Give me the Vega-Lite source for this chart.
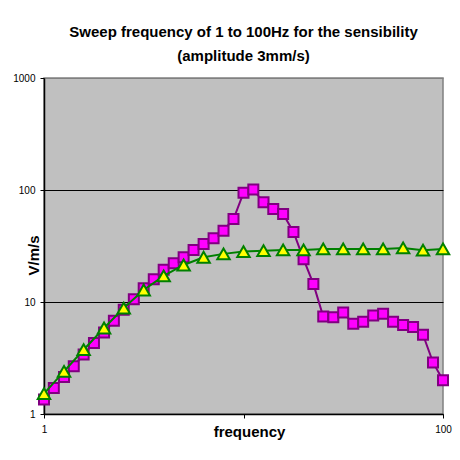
{
  "$schema": "https://vega.github.io/schema/vega-lite/v6.json",
  "width": 399,
  "height": 336,
  "autosize": {"type": "none"},
  "padding": {"left": 44, "top": 78, "right": 17, "bottom": 46},
  "background": "white",
  "config": {
    "font": "Liberation Sans",
    "view": {"fill": "#C0C0C0", "stroke": "#808080", "strokeWidth": 1.5}
  },
  "title": {
    "text": ["Sweep frequency of 1 to 100Hz for the sensibility", "(amplitude 3mm/s)"],
    "fontSize": 15,
    "fontWeight": "bold",
    "font": "Liberation Sans",
    "color": "black",
    "anchor": "middle",
    "frame": "group",
    "lineHeight": 24,
    "baseline": "alphabetic",
    "offset": 16,
    "dy": 19
  },
  "datasets": {
    "magenta": [
      {"freq": 1, "v": 1.35}, {"freq": 1.12, "v": 1.71}, {"freq": 1.26, "v": 2.14},
      {"freq": 1.41, "v": 2.67}, {"freq": 1.58, "v": 3.39}, {"freq": 1.78, "v": 4.31},
      {"freq": 2, "v": 5.35}, {"freq": 2.24, "v": 6.8}, {"freq": 2.51, "v": 8.53},
      {"freq": 2.82, "v": 10.6}, {"freq": 3.16, "v": 13.3}, {"freq": 3.55, "v": 16.0},
      {"freq": 3.98, "v": 19.4}, {"freq": 4.47, "v": 22.2}, {"freq": 5.01, "v": 25.1},
      {"freq": 5.62, "v": 29.2}, {"freq": 6.31, "v": 33.0}, {"freq": 7.08, "v": 37.1},
      {"freq": 7.94, "v": 43.3}, {"freq": 8.91, "v": 55.1}, {"freq": 10, "v": 94.4},
      {"freq": 11.2, "v": 101}, {"freq": 12.6, "v": 77.6}, {"freq": 14.1, "v": 67.6},
      {"freq": 15.8, "v": 61.1}, {"freq": 17.8, "v": 42.2}, {"freq": 20, "v": 24.1},
      {"freq": 22.4, "v": 14.5}, {"freq": 25.1, "v": 7.43}, {"freq": 28.2, "v": 7.3},
      {"freq": 31.6, "v": 8.06}, {"freq": 35.5, "v": 6.4}, {"freq": 39.8, "v": 6.66},
      {"freq": 44.7, "v": 7.58}, {"freq": 50.1, "v": 7.85}, {"freq": 56.2, "v": 6.66},
      {"freq": 63.1, "v": 6.23}, {"freq": 70.8, "v": 5.98}, {"freq": 79.4, "v": 5.1},
      {"freq": 89.1, "v": 2.89}, {"freq": 100, "v": 2.0}
    ],
    "green": [
      {"freq": 1, "v": 1.52}, {"freq": 1.26, "v": 2.4}, {"freq": 1.58, "v": 3.75},
      {"freq": 2, "v": 5.86}, {"freq": 2.51, "v": 8.83}, {"freq": 3.16, "v": 12.8},
      {"freq": 3.98, "v": 17.1}, {"freq": 5.01, "v": 21.4}, {"freq": 6.31, "v": 25.1},
      {"freq": 7.94, "v": 26.9}, {"freq": 10, "v": 28.2}, {"freq": 12.6, "v": 28.7},
      {"freq": 15.8, "v": 29.2}, {"freq": 20, "v": 29.2}, {"freq": 25.1, "v": 29.8},
      {"freq": 31.6, "v": 29.8}, {"freq": 39.8, "v": 29.8}, {"freq": 50.1, "v": 29.8},
      {"freq": 63.1, "v": 30.4}, {"freq": 79.4, "v": 29.0}, {"freq": 100, "v": 29.8}
    ]
  },
  "encoding": {
    "x": {
      "field": "freq", "type": "quantitative",
      "scale": {"type": "log", "domain": [1, 100], "nice": false},
      "axis": {
        "title": "frequency",
        "titleFontSize": 15, "titleFontWeight": "bold", "titleColor": "black",
        "titleX": 205, "titleY": 22, "titleBaseline": "alphabetic", "titleAlign": "center",
        "values": [1, 10, 100],
        "format": "d",
        "labelExpr": "datum.value == 10 ? '' : datum.label",
        "grid": false,
        "domainColor": "black", "domainWidth": 1.5,
        "tickColor": "black", "tickSize": 4,
        "labelFontSize": 10, "labelColor": "black", "labelPadding": 6,
        "labelFlush": false, "labelOverlap": false
      }
    },
    "y": {
      "field": "v", "type": "quantitative",
      "scale": {"type": "log", "domain": [1, 1000], "nice": false},
      "axis": {
        "title": "V/m/s",
        "titleFontSize": 15, "titleFontWeight": "bold", "titleColor": "black",
        "titleX": -11, "titleY": 177, "titleBaseline": "middle", "titleAlign": "center", "titleAngle": -90,
        "values": [1, 10, 100, 1000],
        "format": "d",
        "grid": true,
        "gridColor": {"condition": {"test": "datum.value == 1000", "value": "#808080"}, "value": "black"},
        "gridWidth": 1,
        "domainColor": "black", "domainWidth": 1.5,
        "tickColor": "black", "tickSize": 4,
        "labelFontSize": 10, "labelColor": "black", "labelPadding": 5,
        "labelFlush": false, "labelOverlap": false
      }
    }
  },
  "layer": [
    {
      "data": {"name": "magenta"},
      "mark": {"type": "line", "color": "#800080", "strokeWidth": 2},
      "encoding": {}
    },
    {
      "data": {"name": "magenta"},
      "mark": {"type": "point", "shape": "square", "size": 100, "filled": true, "fill": "#FF00FF", "stroke": "#800080", "strokeWidth": 2, "opacity": 1}
    },
    {
      "data": {"name": "green"},
      "mark": {"type": "line", "color": "#008000", "strokeWidth": 2},
      "encoding": {}
    },
    {
      "data": {"name": "green"},
      "mark": {"type": "point", "shape": "triangle-up", "size": 155, "filled": true, "fill": "#FFFF00", "stroke": "#008000", "strokeWidth": 2, "opacity": 1}
    }
  ]
}
